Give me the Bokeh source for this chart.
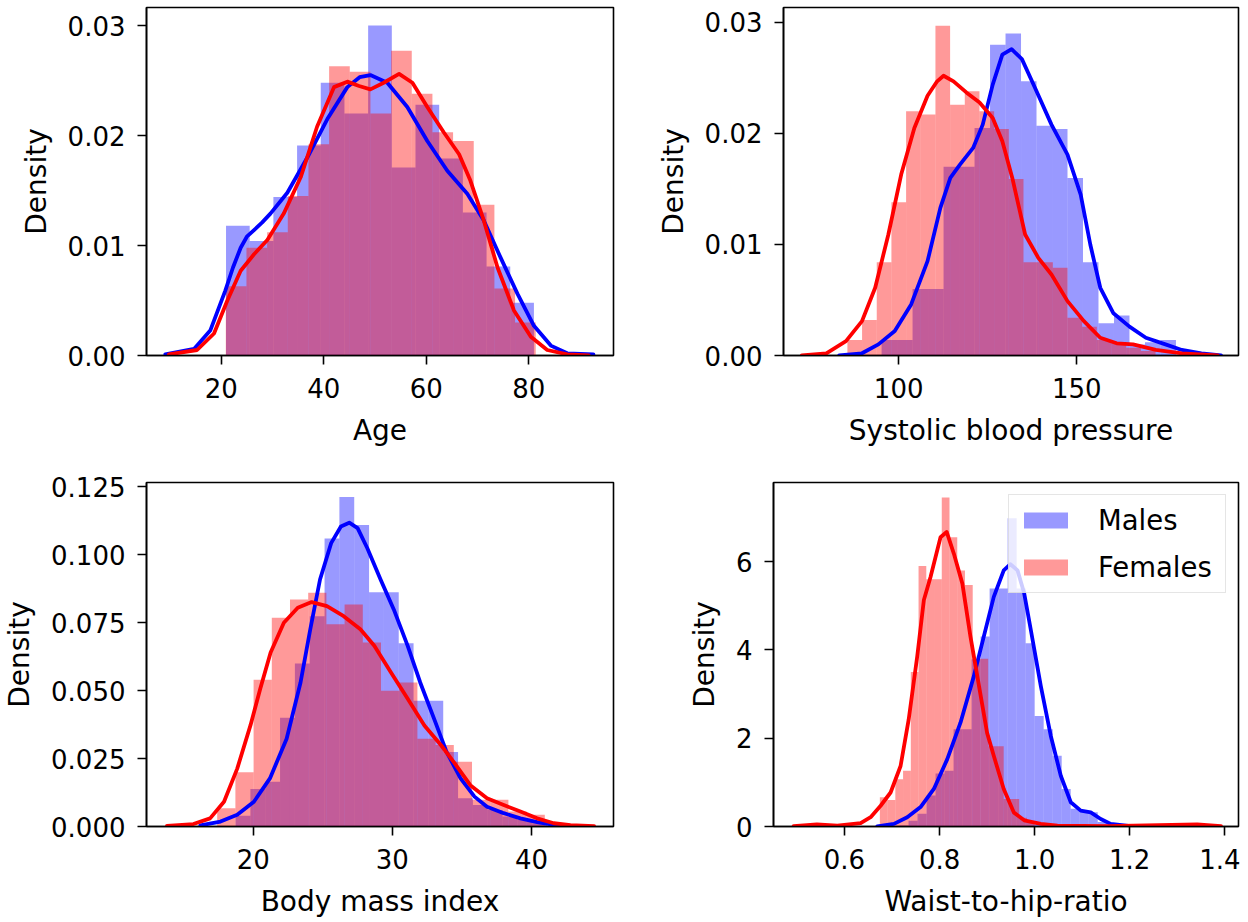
from bokeh.plotting import figure
from bokeh.models import Range1d, FixedTicker, PrintfTickFormatter, Legend, LegendItem
from bokeh.layouts import column, row
from bokeh.embed import file_html
from bokeh.resources import INLINE

# ---------------- data ----------------
# Age
age_m_start, age_m_width = 20.94, 4.62
age_m_hist = [0.0118, 0.0104, 0.0144, 0.0191, 0.0248, 0.0220, 0.0300, 0.0171, 0.0228, 0.0179, 0.0130, 0.0081, 0.0048]
age_f_start, age_f_width = 20.90, 4.03
age_f_hist = [0.0063, 0.0098, 0.0112, 0.0145, 0.0192, 0.0263, 0.0258, 0.0220, 0.0277, 0.0238, 0.0203, 0.0195, 0.0137, 0.0061, 0.0030]
age_m_kde_x = [9.1, 14.7, 17.9, 20.8, 22.3, 23.8, 25.0, 26.4, 28.0, 29.6, 32.9, 36.8, 40.7, 44.6, 47.0, 49.1, 52.4, 56.3, 60.2, 64.1, 68.0, 71.2, 74.5, 77.8, 81.0, 84.3, 87.5, 92.6]
age_m_kde_y = [0.0001, 0.0006, 0.0023, 0.0059, 0.0080, 0.0098, 0.0108, 0.0114, 0.0121, 0.0129, 0.0148, 0.0180, 0.0215, 0.0244, 0.0253, 0.0255, 0.0248, 0.0226, 0.0195, 0.0168, 0.0147, 0.0123, 0.0089, 0.0056, 0.0027, 0.0009, 0.0002, 0.0001]
age_f_kde_x = [9.8, 15.3, 18.6, 21.2, 23.8, 26.4, 29.0, 32.2, 35.5, 38.7, 42.0, 44.6, 46.9, 49.1, 51.7, 54.7, 57.3, 60.2, 63.4, 66.4, 68.6, 71.2, 73.9, 77.1, 80.4, 83.6, 87.5, 91.7]
age_f_kde_y = [0.0001, 0.0005, 0.0020, 0.0050, 0.0077, 0.0092, 0.0105, 0.0129, 0.0162, 0.0208, 0.0244, 0.0249, 0.0245, 0.0242, 0.0248, 0.0256, 0.0248, 0.0226, 0.0203, 0.0183, 0.0159, 0.0123, 0.0080, 0.0041, 0.0017, 0.0005, 0.0001, 0.0000]

# Systolic blood pressure
sbp_m_start, sbp_m_width = 95.2, 4.35
sbp_m_hist = [0.0014, 0.0014, 0.0060, 0.0060, 0.0170, 0.0170, 0.0205, 0.0280, 0.0290, 0.0247, 0.0207, 0.0204, 0.0160, 0.0084, 0.0029, 0.0036, 0.0010, 0.0012, 0.0014]
sbp_f_start, sbp_f_width = 85.6, 4.12
sbp_f_hist = [0.0014, 0.0032, 0.0084, 0.0138, 0.0220, 0.0217, 0.0297, 0.0226, 0.0238, 0.0220, 0.0204, 0.0159, 0.0084, 0.0084, 0.0079, 0.0034, 0.0026, 0.0014, 0.0011, 0.0007, 0.0004]
sbp_m_kde_x = [83.3, 89.7, 94.3, 98.9, 103.5, 108.1, 111.7, 114.5, 117.2, 120.9, 123.6, 126.4, 129.1, 131.7, 134.6, 138.3, 142.9, 147.4, 151.1, 153.8, 156.6, 160.3, 164.8, 169.4, 174.9, 179.5, 185.0, 190.5]
sbp_m_kde_y = [0.0000, 0.0002, 0.0010, 0.0022, 0.0046, 0.0085, 0.0133, 0.0160, 0.0172, 0.0187, 0.0208, 0.0244, 0.0271, 0.0276, 0.0267, 0.0241, 0.0208, 0.0181, 0.0145, 0.0100, 0.0061, 0.0038, 0.0026, 0.0016, 0.0010, 0.0005, 0.0002, 0.0000]
sbp_f_kde_x = [72.8, 79.7, 85.2, 89.7, 93.4, 97.1, 100.7, 104.4, 108.1, 110.8, 112.6, 115.4, 119.0, 122.7, 126.4, 129.1, 131.9, 135.5, 139.2, 142.9, 147.4, 152.0, 156.6, 161.2, 165.8, 172.2, 179.5, 189.6]
sbp_f_kde_y = [0.0000, 0.0002, 0.0013, 0.0031, 0.0061, 0.0109, 0.0163, 0.0205, 0.0234, 0.0247, 0.0252, 0.0247, 0.0237, 0.0228, 0.0214, 0.0193, 0.0160, 0.0109, 0.0088, 0.0073, 0.0049, 0.0031, 0.0016, 0.0011, 0.0010, 0.0005, 0.0002, 0.0000]

# Body mass index
bmi_m_start, bmi_m_width = 18.73, 1.066
bmi_m_hist = [0.0040, 0.0138, 0.0165, 0.0400, 0.0600, 0.0774, 0.1060, 0.1213, 0.1110, 0.0862, 0.0862, 0.0674, 0.0463, 0.0463, 0.0274, 0.0104, 0.0079, 0.0061, 0.0037, 0.0024, 0.0012]
bmi_f_start, bmi_f_width = 17.41, 1.308
bmi_f_hist = [0.0067, 0.0200, 0.0540, 0.0768, 0.0835, 0.0860, 0.0744, 0.0817, 0.0677, 0.0500, 0.0530, 0.0323, 0.0300, 0.0238, 0.0098, 0.0098, 0.0055, 0.0043]
bmi_m_kde_x = [16.2, 17.65, 18.85, 20.05, 21.2, 22.4, 23.4, 24.1, 24.8, 25.6, 26.3, 26.9, 27.5, 28.2, 29.15, 30.1, 31.1, 32.0, 33.0, 33.9, 34.9, 35.9, 36.8, 38.0, 39.2, 40.4, 41.6, 43.0]
bmi_m_kde_y = [0.0004, 0.0018, 0.0043, 0.0091, 0.0177, 0.0323, 0.0530, 0.0726, 0.0909, 0.1043, 0.1104, 0.1118, 0.1098, 0.1024, 0.0909, 0.0799, 0.0665, 0.0530, 0.0396, 0.0274, 0.0177, 0.0110, 0.0073, 0.0049, 0.0030, 0.0016, 0.0006, 0.0001]
bmi_f_kde_x = [13.8, 15.7, 16.9, 17.9, 18.85, 19.8, 20.5, 21.25, 22.2, 23.2, 24.2, 25.3, 26.5, 27.7, 28.7, 29.9, 31.1, 32.3, 33.5, 34.4, 35.6, 36.8, 38.0, 39.2, 40.4, 41.6, 42.8, 44.5]
bmi_f_kde_y = [0.0002, 0.0009, 0.0030, 0.0091, 0.0213, 0.0372, 0.0506, 0.0640, 0.0750, 0.0805, 0.0826, 0.0811, 0.0774, 0.0726, 0.0665, 0.0567, 0.0470, 0.0372, 0.0299, 0.0238, 0.0152, 0.0104, 0.0079, 0.0055, 0.0030, 0.0012, 0.0005, 0.0001]

# Waist-to-hip-ratio
whr_m_start, whr_m_width = 0.7158, 0.01895
whr_m_hist = [0.02, 0.13, 0.29, 0.70, 1.20, 1.26, 2.20, 2.20, 3.79, 4.30, 5.39, 5.39, 6.98, 5.39, 4.15, 2.50, 2.20, 1.60, 0.85, 0.40, 0.36, 0.32, 0.10, 0.05]
whr_f_start, whr_f_width = 0.6744, 0.01628
whr_f_hist = [0.66, 0.60, 1.07, 1.26, 3.50, 5.90, 5.60, 5.60, 7.45, 6.55, 5.80, 5.47, 3.80, 3.80, 1.82, 1.82, 0.62, 0.62, 0.20, 0.10]
whr_m_kde_x = [0.669, 0.704, 0.732, 0.760, 0.788, 0.816, 0.844, 0.872, 0.893, 0.914, 0.935, 0.949, 0.964, 0.978, 0.992, 1.013, 1.034, 1.055, 1.076, 1.097, 1.118, 1.139, 1.160, 1.202, 1.258]
whr_m_kde_y = [0.00, 0.06, 0.21, 0.44, 0.85, 1.52, 2.35, 3.40, 4.30, 5.20, 5.80, 5.94, 5.80, 5.28, 4.45, 3.18, 2.05, 1.15, 0.55, 0.36, 0.32, 0.17, 0.06, 0.01, 0.00]
whr_f_kde_x = [0.493, 0.542, 0.585, 0.634, 0.655, 0.676, 0.697, 0.718, 0.735, 0.753, 0.767, 0.781, 0.802, 0.815, 0.830, 0.848, 0.865, 0.883, 0.900, 0.914, 0.935, 0.956, 0.978, 1.013, 1.048, 1.153, 1.342, 1.392]
whr_f_kde_y = [0.01, 0.045, 0.02, 0.075, 0.21, 0.47, 0.77, 1.37, 2.42, 3.85, 5.13, 5.65, 6.55, 6.67, 6.18, 5.50, 4.30, 3.18, 2.12, 1.60, 0.85, 0.32, 0.14, 0.06, 0.02, 0.01, 0.045, 0.01]

x_labels = ["Age", "Systolic blood pressure", "Body mass index", "Waist-to-hip-ratio"]
y_label = "Density"
legend_labels = ["Males", "Females"]

FONT = "DejaVu Sans"
BLUE = "#0000ff"
RED = "#ff0000"


def edges(start, width, n):
    return [start + width * i for i in range(n + 1)]


def make_panel(width, height, borders, xr, yr, xticks, xfmt, yticks, yfmt, xlabel,
               m_start, m_width, m_hist, f_start, f_width, f_hist,
               mkx, mky, fkx, fky):
    left_b, right_b, top_b, bottom_b = borders
    p = figure(width=width, height=height, output_backend="svg", toolbar_location=None,
               x_range=Range1d(*xr), y_range=Range1d(*yr),
               min_border_left=left_b, min_border_right=right_b,
               min_border_top=top_b, min_border_bottom=bottom_b)
    p.xgrid.visible = False
    p.ygrid.visible = False
    p.outline_line_color = "black"
    p.outline_line_width = 1.6
    p.background_fill_color = "white"
    p.border_fill_color = "white"

    me = edges(m_start, m_width, len(m_hist))
    fe = edges(f_start, f_width, len(f_hist))
    rm = p.quad(left=me[:-1], right=me[1:], bottom=0, top=m_hist,
                fill_color=BLUE, fill_alpha=0.4, line_color=None)
    rf = p.quad(left=fe[:-1], right=fe[1:], bottom=0, top=f_hist,
                fill_color=RED, fill_alpha=0.4, line_color=None)
    p.line(mkx, mky, line_color=BLUE, line_width=3.8, line_join="round", line_cap="round")
    p.line(fkx, fky, line_color=RED, line_width=3.8, line_join="round", line_cap="round")

    for ax, ticks, fmt in ((p.xaxis[0], xticks, xfmt), (p.yaxis[0], yticks, yfmt)):
        ax.ticker = FixedTicker(ticks=ticks)
        ax.formatter = PrintfTickFormatter(format=fmt)
        ax.minor_tick_line_color = None
        ax.major_tick_in = 0
        ax.major_tick_out = 9
        ax.major_tick_line_width = 1.6
        ax.major_tick_line_color = "black"
        ax.axis_line_width = 1.6
        ax.axis_line_color = "black"
        ax.major_label_text_font = FONT
        ax.major_label_text_font_size = "26px"
        ax.major_label_text_color = "black"
        ax.axis_label_text_font = FONT
        ax.axis_label_text_font_size = "28px"
        ax.axis_label_text_font_style = "normal"
        ax.axis_label_text_color = "black"
    p.xaxis[0].major_label_standoff = 13
    p.xaxis[0].axis_label_standoff = 13
    p.yaxis[0].major_label_standoff = 12
    p.yaxis[0].axis_label_standoff = 12
    p.xaxis[0].axis_label = xlabel
    p.yaxis[0].axis_label = y_label
    return p, rm, rf


p1, _, _ = make_panel(653, 472, (146, 40, 7, 117), (5.43, 96.52), (0, 0.03164),
                      [20, 40, 60, 80], "%d", [0, 0.01, 0.02, 0.03], "%.2f", x_labels[0],
                      age_m_start, age_m_width, age_m_hist, age_f_start, age_f_width, age_f_hist,
                      age_m_kde_x, age_m_kde_y, age_f_kde_x, age_f_kde_y)
p2, _, _ = make_panel(587, 472, (120, 2, 7, 117), (67.66, 195.41), (0, 0.03135),
                      [100, 150], "%d", [0, 0.01, 0.02, 0.03], "%.2f", x_labels[1],
                      sbp_m_start, sbp_m_width, sbp_m_hist, sbp_f_start, sbp_f_width, sbp_f_hist,
                      sbp_m_kde_x, sbp_m_kde_y, sbp_f_kde_x, sbp_f_kde_y)
p3, _, _ = make_panel(653, 448, (146, 40, 10, 92), (12.33, 45.89), (0, 0.1266),
                      [20, 30, 40], "%d", [0, 0.025, 0.05, 0.075, 0.1, 0.125], "%.3f", x_labels[2],
                      bmi_m_start, bmi_m_width, bmi_m_hist, bmi_f_start, bmi_f_width, bmi_f_hist,
                      bmi_m_kde_x, bmi_m_kde_y, bmi_f_kde_x, bmi_f_kde_y)
p4, rm4, rf4 = make_panel(587, 448, (120, 2, 10, 92), (0.4507, 1.4288), (0, 7.79),
                          [0.6, 0.8, 1.0, 1.2, 1.4], "%.1f", [0, 2, 4, 6], "%d", x_labels[3],
                          whr_m_start, whr_m_width, whr_m_hist, whr_f_start, whr_f_width, whr_f_hist,
                          whr_m_kde_x, whr_m_kde_y, whr_f_kde_x, whr_f_kde_y)

legend = Legend(items=[LegendItem(label=legend_labels[0], renderers=[rm4]),
                       LegendItem(label=legend_labels[1], renderers=[rf4])],
                location="top_right", margin=12, padding=9, spacing=15,
                glyph_width=55, glyph_height=20, label_height=30, label_width=118,
                label_standoff=25,
                label_text_font=FONT, label_text_font_size="27.5px", label_text_color="black",
                border_line_color="#cccccc", border_line_width=1.5,
                background_fill_color="white", background_fill_alpha=0.8)
p4.add_layout(legend)

layout = column(row(p1, p2, spacing=0), row(p3, p4, spacing=0), spacing=0)

with open("out.html", "w") as f:
    f.write(file_html(layout, INLINE))
